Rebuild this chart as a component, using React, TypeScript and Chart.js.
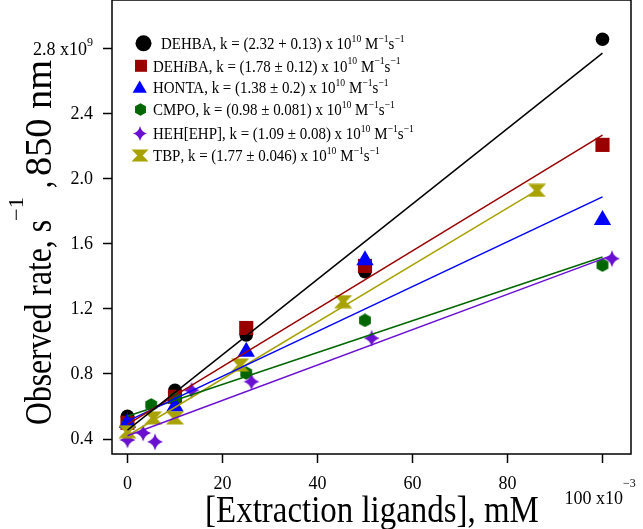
import React, { useEffect, useRef } from 'react';
import { Chart, registerables } from 'chart.js';

Chart.register(...registerables);

const FONT = '"Liberation Serif", "Times New Roman", serif';

// ---- data ----
const seriesNames = ['DEHBA', 'DEHiBA', 'HONTA', 'CMPO', 'HEH[EHP]', 'TBP'];
const seriesColors = ['#000000', '#990000', '#0000ff', '#006600', '#6a10d0', '#a8a200'];
const legendK = ['(2.32 + 0.13)', '(1.78 ± 0.12)', '(1.38 ± 0.2)', '(0.98 ± 0.081)', '(1.09 ± 0.08)', '(1.77 ± 0.046)'];

const dehbaX = [0, 10, 25, 50, 100];
const dehbaY = [0.54, 0.7, 1.04, 1.43, 2.86];
const dehibaX = [0, 10, 25, 50, 100];
const dehibaY = [0.5, 0.66, 1.083, 1.465, 2.21];
const hontaX = [0, 10, 25, 50, 100];
const hontaY = [0.5, 0.6, 0.937, 1.5, 1.748];
const cmpoX = [0, 5, 10, 25, 50, 100];
const cmpoY = [0.49, 0.61, 0.65, 0.806, 1.13, 1.47];
const hehX = [0, 3.3, 5.8, 13.5, 26.1, 51.4, 102];
const hehY = [0.394, 0.437, 0.383, 0.7, 0.753, 1.02, 1.51];
const tbpX = [0, 5.4, 10, 23.7, 45.4, 86.2];
const tbpY = [0.445, 0.53, 0.53, 0.855, 1.245, 1.93];

const fitStartY = [0.455, 0.49, 0.51, 0.54, 0.42, 0.42];
const fitEndX = [100, 100, 100, 100, 102, 86.2];
const fitEndY = [2.775, 2.27, 1.89, 1.52, 1.53, 1.93];

const xTicks = [0, 20, 40, 60, 80, 100];
const yTicks = [0.4, 0.8, 1.2, 1.6, 2.0, 2.4, 2.8];

// ---- marker canvases ----
function makeCanvas(w: number, h: number, draw: (c: CanvasRenderingContext2D) => void) {
  const c = document.createElement('canvas');
  c.width = w;
  c.height = h;
  const ctx = c.getContext('2d') as CanvasRenderingContext2D;
  draw(ctx);
  return c;
}
function hexPath(ctx: CanvasRenderingContext2D, cx: number, cy: number, r: number) {
  ctx.beginPath();
  for (let k = 0; k < 6; k++) {
    const a = -Math.PI / 2 + (k * Math.PI) / 3;
    const x = cx + r * Math.cos(a);
    const y = cy + r * Math.sin(a);
    if (k === 0) ctx.moveTo(x, y);
    else ctx.lineTo(x, y);
  }
  ctx.closePath();
}
function starPath(ctx: CanvasRenderingContext2D, cx: number, cy: number, rx: number, ry: number) {
  const k = 0.2;
  ctx.beginPath();
  ctx.moveTo(cx, cy - ry);
  ctx.quadraticCurveTo(cx + rx * k, cy - ry * k, cx + rx, cy);
  ctx.quadraticCurveTo(cx + rx * k, cy + ry * k, cx, cy + ry);
  ctx.quadraticCurveTo(cx - rx * k, cy + ry * k, cx - rx, cy);
  ctx.quadraticCurveTo(cx - rx * k, cy - ry * k, cx, cy - ry);
  ctx.closePath();
}
function hourPath(ctx: CanvasRenderingContext2D, cx: number, cy: number, w: number, h: number) {
  const x0 = cx - w / 2, y0 = cy - h / 2;
  ctx.beginPath();
  ctx.moveTo(x0, y0);
  ctx.lineTo(x0 + w, y0);
  ctx.lineTo(cx + w * 0.16, cy);
  ctx.lineTo(x0 + w, y0 + h);
  ctx.lineTo(x0, y0 + h);
  ctx.lineTo(cx - w * 0.16, cy);
  ctx.closePath();
}
function triPath(ctx: CanvasRenderingContext2D, cx: number, cy: number, r: number) {
  ctx.beginPath();
  ctx.moveTo(cx, cy - r);
  ctx.lineTo(cx + r * 0.866, cy + r / 2);
  ctx.lineTo(cx - r * 0.866, cy + r / 2);
  ctx.closePath();
}

type Part = { t: string; size: number; dy?: number; italic?: boolean };
function setFont(ctx: CanvasRenderingContext2D, p: Part) {
  ctx.font = `${p.italic ? 'italic ' : ''}${p.size}px ${FONT}`;
}
function drawRich(
  ctx: CanvasRenderingContext2D,
  parts: Part[],
  x: number,
  y: number,
  sx: number,
  align: 'left' | 'center' | 'right'
) {
  ctx.save();
  ctx.translate(x, y);
  ctx.scale(sx, 1);
  let w = 0;
  for (const p of parts) {
    setFont(ctx, p);
    w += ctx.measureText(p.t).width;
  }
  let cx = align === 'left' ? 0 : align === 'center' ? -w / 2 : -w;
  ctx.textAlign = 'left';
  ctx.textBaseline = 'alphabetic';
  ctx.fillStyle = '#000';
  for (const p of parts) {
    setFont(ctx, p);
    ctx.fillText(p.t, cx, p.dy || 0);
    cx += ctx.measureText(p.t).width;
  }
  ctx.restore();
}
// draw a single text run stretched to fit [x0, x1] along the baseline
function drawFit(ctx: CanvasRenderingContext2D, p: Part, x0: number, x1: number) {
  setFont(ctx, p);
  const w = ctx.measureText(p.t).width;
  drawRich(ctx, [p], x0, 0, (x1 - x0) / w, 'left');
}

const legendRowY = [43.3, 65.8, 87.5, 109.5, 133.5, 155.5];

const overlay = {
  id: 'overlay',
  afterDraw(chart: any) {
    const { ctx, chartArea: a, scales } = chart;
    ctx.save();
    ctx.strokeStyle = '#000';
    ctx.lineWidth = 1.5;
    ctx.strokeRect(a.left, a.top, a.right - a.left, a.bottom - a.top);

    // legend
    for (let i = 0; i < 6; i++) {
      const cy = legendRowY[i];
      ctx.fillStyle = seriesColors[i];
      if (i === 0) {
        ctx.beginPath();
        ctx.arc(143.5, cy, 8, 0, Math.PI * 2);
        ctx.fill();
      } else if (i === 1) {
        ctx.fillRect(135, cy - 6, 12, 12);
      } else if (i === 2) {
        triPath(ctx, 139.7, cy + 1.2, 8.2);
        ctx.fill();
      } else if (i === 3) {
        hexPath(ctx, 140.5, cy, 6.3);
        ctx.fill();
      } else if (i === 4) {
        starPath(ctx, 140, cy, 7, 7.5);
        ctx.fill();
      } else {
        hourPath(ctx, 140, cy, 17, 12);
        ctx.fill();
      }
      const sup = 11;
      const base = 17;
      const name: Part[] =
        i === 1
          ? [
              { t: 'DEH', size: base },
              { t: 'i', size: base, italic: true },
              { t: 'BA', size: base },
            ]
          : [{ t: seriesNames[i], size: base }];
      const parts: Part[] = [
        ...name,
        { t: `, k = ${legendK[i]} x 10`, size: base },
        { t: '10', size: sup, dy: -7.5 },
        { t: ' M', size: base },
        { t: '\u22121', size: sup, dy: -7.5 },
        { t: 's', size: base },
        { t: '\u22121', size: sup, dy: -7.5 },
      ];
      drawRich(ctx, parts, i === 0 ? 161 : 153, cy + 5.7, 0.88, 'left');
    }

    // special tick labels
    const yTop = scales.y.getPixelForValue(2.8);
    drawRich(
      ctx,
      [
        { t: '2.8 x10', size: 18 },
        { t: '9', size: 12, dy: -9 },
      ],
      93,
      yTop + 6.5,
      1,
      'right'
    );
    const x100 = scales.x.getPixelForValue(100);
    drawRich(
      ctx,
      [
        { t: '100 x10', size: 18 },
        { t: '\u22123', size: 12, dy: -17 },
      ],
      x100 - 38,
      504,
      1,
      'left'
    );

    // axis titles
    drawRich(ctx, [{ t: '[Extraction ligands], mM', size: 37 }], 372, 522, 0.89, 'center');
    ctx.save();
    ctx.translate(51, 425);
    ctx.rotate(-Math.PI / 2);
    drawFit(ctx, { t: 'Observed rate, s', size: 38 }, 0, 205);
    drawFit(ctx, { t: '\u22121', size: 21, dy: -28 }, 204, 228);
    drawFit(ctx, { t: ',', size: 38 }, 237, 244);
    drawFit(ctx, { t: '850 nm', size: 38 }, 249, 365);
    ctx.restore();
    ctx.restore();
  },
};

export default function App() {
  const ref = useRef<HTMLCanvasElement | null>(null);
  useEffect(() => {
    if (!ref.current) return;
    const hexImg = makeCanvas(14, 14, (c) => {
      c.fillStyle = seriesColors[3];
      hexPath(c, 7, 7, 6.8);
      c.fill();
    });
    const starImg = makeCanvas(18, 18, (c) => {
      c.fillStyle = seriesColors[4];
      starPath(c, 9, 9, 8, 8.5);
      c.fill();
    });
    const hourImg = makeCanvas(19, 14, (c) => {
      c.fillStyle = seriesColors[5];
      hourPath(c, 9.5, 7, 18, 13);
      c.fill();
    });
    const xs = [dehbaX, dehibaX, hontaX, cmpoX, hehX, tbpX];
    const ys = [dehbaY, dehibaY, hontaY, cmpoY, hehY, tbpY];
    const styles: any[] = ['circle', 'rect', 'triangle', hexImg, starImg, hourImg];
    const radii = [6.8, 10, 10, 8, 8, 8];
    const orders = [7, 6, 4, 5, 3, 2];
    const pointSets = seriesNames.map((n, i) => ({
      label: n,
      data: xs[i].map((x, j) => ({ x, y: ys[i][j] })),
      showLine: false,
      pointStyle: styles[i],
      pointRadius: radii[i],
      pointBorderWidth: 0,
      backgroundColor: seriesColors[i],
      borderColor: seriesColors[i],
      order: orders[i],
    }));
    const lineSets = seriesNames.map((n, i) => ({
      label: n + ' fit',
      data: [
        { x: 0, y: fitStartY[i] },
        { x: fitEndX[i], y: fitEndY[i] },
      ],
      showLine: true,
      pointRadius: 0,
      borderWidth: 1.5,
      borderColor: seriesColors[i],
      backgroundColor: seriesColors[i],
      order: 0,
    }));
    const zeroPad = (s: any) => {
      s.paddingTop = 0;
      s.paddingBottom = 0;
      s.paddingLeft = 0;
      s.paddingRight = 0;
    };
    const chart = new Chart(ref.current, {
      type: 'scatter',
      data: { datasets: [...pointSets, ...lineSets] as any },
      options: {
        responsive: true,
        maintainAspectRatio: false,
        animation: false,
        layout: { autoPadding: false, padding: { top: 0, right: 12, left: 0, bottom: 0 } },
        plugins: { legend: { display: false }, tooltip: { enabled: false } },
        scales: {
          x: {
            type: 'linear',
            min: -3.26,
            max: 106,
            afterBuildTicks: (s: any) => {
              s.ticks = xTicks.map((v) => ({ value: v }));
            },
            afterFit: (s: any) => {
              s.height = 75;
              zeroPad(s);
            },
            ticks: {
              callback: (v: any) => (v === 100 ? '' : String(v)),
              font: { family: FONT, size: 18 },
              color: '#000',
              padding: 10,
              maxRotation: 0,
              autoSkip: false,
            },
            grid: { drawOnChartArea: false, drawTicks: true, tickLength: 9, color: '#000', tickWidth: 1.5 },
            border: { display: false },
          },
          y: {
            type: 'linear',
            min: 0.3077,
            max: 3.1015,
            afterBuildTicks: (s: any) => {
              s.ticks = yTicks.map((v) => ({ value: v }));
            },
            afterFit: (s: any) => {
              s.width = 112;
              zeroPad(s);
            },
            ticks: {
              callback: (v: any) => (Math.abs(v - 2.8) < 1e-6 ? '' : Number(v).toFixed(1)),
              font: { family: FONT, size: 18 },
              color: '#000',
              padding: 10,
              autoSkip: false,
            },
            grid: { drawOnChartArea: false, drawTicks: true, tickLength: 9, color: '#000', tickWidth: 1.5 },
            border: { display: false },
          },
        },
      } as any,
      plugins: [overlay],
    });
    return () => chart.destroy();
  }, []);
  return (
    <div style={{ position: 'fixed', left: 0, top: 0, width: 643, height: 529, background: '#fff' }}>
      <canvas ref={ref} />
    </div>
  );
}
